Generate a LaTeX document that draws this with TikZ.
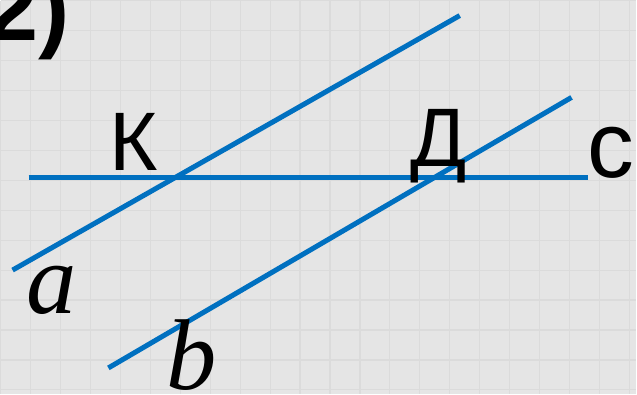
\documentclass[tikz,border=0pt]{standalone}
\usepackage{fontspec}
\setmainfont{Liberation Sans}
\newfontfamily\serifit{Liberation Serif}
\usetikzlibrary{positioning}
\definecolor{linblue}{RGB}{0,112,192}
\definecolor{bggray}{RGB}{229,229,229}
\definecolor{gridgray}{RGB}{219,219,219}
\tikzset{
  ln/.style={draw=linblue, line width=4.3pt},
  lbl/.style={inner sep=0pt, anchor=base west, font=\fontsize{71}{71}\selectfont},
  varlbl/.style={inner sep=0pt, anchor=base west, font=\fontsize{86}{86}\selectfont\serifit\itshape},
  numlbl/.style={inner sep=0pt, anchor=base west, font=\fontsize{80}{80}\selectfont\bfseries},
}

\begin{document}
\begin{tikzpicture}[x=0.03cm, y=-0.03cm]
\fill[bggray] (0,0) rectangle (637,394);
\draw[gridgray, line width=1pt, step=0.9cm] (0,0) grid (637,394);
\useasboundingbox (0,0) rectangle (637,394);
\coordinate (a1) at (12,270);
\coordinate (a2) at (460,15);
\coordinate (b1) at (108,368);
\coordinate (b2) at (572,97);
\coordinate (c1) at (28,177);
\coordinate (c2) at (588,177);
\draw[ln] (c1) -- (c2);
\draw[ln] (a1) -- (a2);
\draw[ln] (b1) -- (b2);
\node[numlbl] (num) at (-14,40) {2)};
\node[lbl] (lk) at (109,170) {К};
\node[lbl] (ld) at (410,166) {Д};
\node[lbl, font=\fontsize{80}{80}\selectfont] (lc) at (588,177) {с};
\node[varlbl] (la) at (26,313) {a};
\node[varlbl] (lb) at (166,390) {b};
\end{tikzpicture}
\end{document}
